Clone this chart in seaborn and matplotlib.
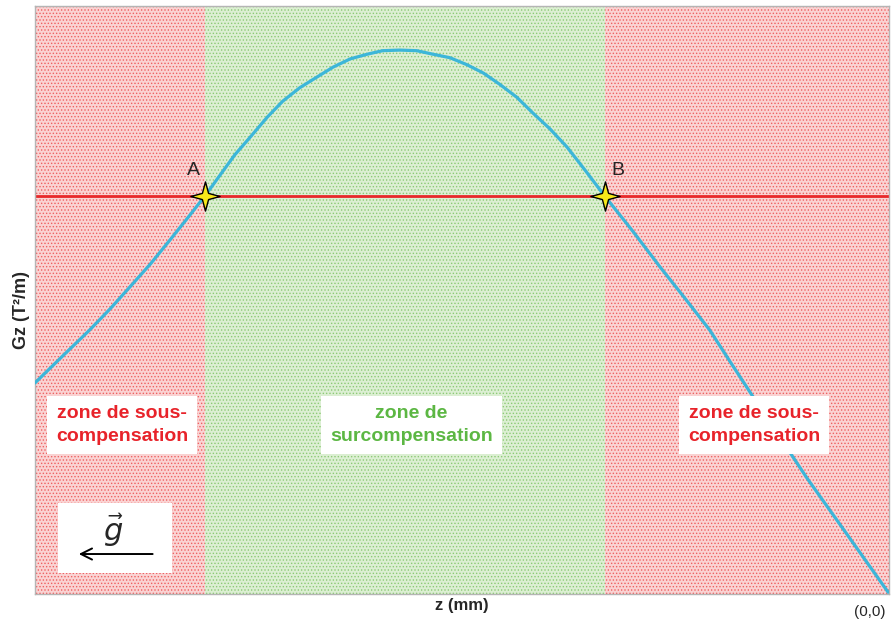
import matplotlib
matplotlib.use("Agg")
import matplotlib.pyplot as plt
import seaborn as sns
import pandas as pd
from matplotlib.patches import Rectangle
from matplotlib.path import Path

sns.set_theme(style="white")
plt.rcParams['font.family'] = ['Liberation Sans', 'DejaVu Sans']
plt.rcParams['hatch.linewidth'] = 0.6

# Data: z in mm (origin at bottom-right), Gz arbitrary units
z_vals = [100.0, 97.1, 93.6, 91.2, 88.9, 86.5, 84.2, 82.1, 80.1, 78.3, 76.6,
          74.8, 72.8, 71.0, 69.0, 67.0, 65.1, 63.1, 61.1, 59.3, 57.3, 55.3,
          53.4, 51.4, 49.4, 47.5, 45.6, 43.6, 41.7, 39.7, 37.7, 35.6, 33.3,
          30.0, 26.8, 23.9, 21.0, 18.6, 15.9, 12.8, 9.6, 4.6, 0.1]
gz_vals = [35.9, 40.0, 44.9, 48.5, 52.2, 56.1, 60.2, 64.0, 67.7, 71.3, 74.7,
           77.7, 81.1, 83.8, 86.1, 87.9, 89.6, 91.0, 91.8, 92.4, 92.5, 92.4,
           91.8, 91.2, 90.0, 88.6, 86.7, 84.5, 81.8, 79.1, 76.0, 72.1, 67.7,
           61.7, 55.6, 50.3, 44.9, 39.5, 33.5, 26.7, 19.7, 9.5, 0.3]
gz_ref = 67.7
point_z = [80.1, 33.3]
point_labels = ["A", "B"]
zone_labels = ["zone de sous-\ncompensation", "zone de\nsurcompensation",
               "zone de sous-\ncompensation"]

df = pd.DataFrame({"z": z_vals, "Gz": gz_vals})

fig = plt.figure(figsize=(8.96, 6.22), dpi=100)
ax = fig.add_axes([35 / 896, 28 / 622, 854 / 896, 588 / 622])
ax.set_xlim(100, 0)
ax.set_ylim(0, 100)

red_face, red_dot = '#fad3d3', '#ee6060'
green_face, green_dot = '#dcefd3', '#8cc975'
ax.axvspan(point_z[0], 100, facecolor=red_face, edgecolor=red_dot, hatch='.....', linewidth=0, zorder=0)
ax.axvspan(point_z[1], point_z[0], facecolor=green_face, edgecolor=green_dot, hatch='.....', linewidth=0, zorder=0)
ax.axvspan(0, point_z[1], facecolor=red_face, edgecolor=red_dot, hatch='.....', linewidth=0, zorder=0)

ax.axhline(gz_ref, color='#e8282a', lw=2, zorder=2)
sns.lineplot(data=df, x="z", y="Gz", ax=ax, color='#3cb6d9', lw=2.3, zorder=3)

# four-pointed star marker
r_in = 0.3
star = Path([(0, 1), (r_in * 0.707, r_in * 0.707), (1, 0), (r_in * 0.707, -r_in * 0.707),
             (0, -1), (-r_in * 0.707, -r_in * 0.707), (-1, 0), (-r_in * 0.707, r_in * 0.707),
             (0, 1)], closed=True)
ax.plot(point_z, [gz_ref] * 2, linestyle='none', marker=star, markersize=21,
        markerfacecolor='#f7e81a', markeredgecolor='black', markeredgewidth=1, zorder=5)
ax.text(point_z[0] + 1.4, gz_ref + 2.8, point_labels[0], fontsize=14, ha='center', va='bottom', zorder=6)
ax.text(point_z[1] - 1.5, gz_ref + 2.8, point_labels[1], fontsize=14, ha='center', va='bottom', zorder=6)

box = dict(boxstyle='square,pad=0.45', facecolor='white', edgecolor='none')
ax.text(89.8, 28.7, zone_labels[0], color='#e8232a', fontsize=14, fontweight='bold',
        ha='center', va='center', bbox=box, zorder=6, linespacing=1.5)
ax.text(55.9, 28.7, zone_labels[1], color='#5cb743', fontsize=14, fontweight='bold',
        ha='center', va='center', bbox=box, zorder=6, linespacing=1.5)
ax.text(15.8, 28.7, zone_labels[2], color='#e8232a', fontsize=14, fontweight='bold',
        ha='center', va='center', bbox=box, zorder=6, linespacing=1.5)

# gravity box
ax.add_patch(Rectangle((84.0, 3.6), 13.3, 11.9, facecolor='white', edgecolor='none', zorder=6))
ax.annotate('', xy=(95.2, 6.8), xytext=(85.9, 6.8),
            arrowprops=dict(arrowstyle='->', color='black', lw=1.4, mutation_scale=20), zorder=7)
ax.text(90.9, 10.8, r'$\vec{g}$', fontsize=22, ha='center', va='center', zorder=7)

ax.set_xticks([])
ax.set_yticks([])
ax.set_xlabel('z (mm)', fontweight='bold', fontsize=12, labelpad=3)
ax.set_ylabel('Gz (T²/m)', fontweight='bold', fontsize=13)
ax.yaxis.set_label_coords(-0.006, 0.483)
for s in ax.spines.values():
    s.set_color('#b5b5b5')
    s.set_linewidth(1)
fig.text(870 / 896, 1 - 612 / 622, '(0,0)', fontsize=11, ha='center', va='center')

fig.savefig('out.png', dpi=100)
